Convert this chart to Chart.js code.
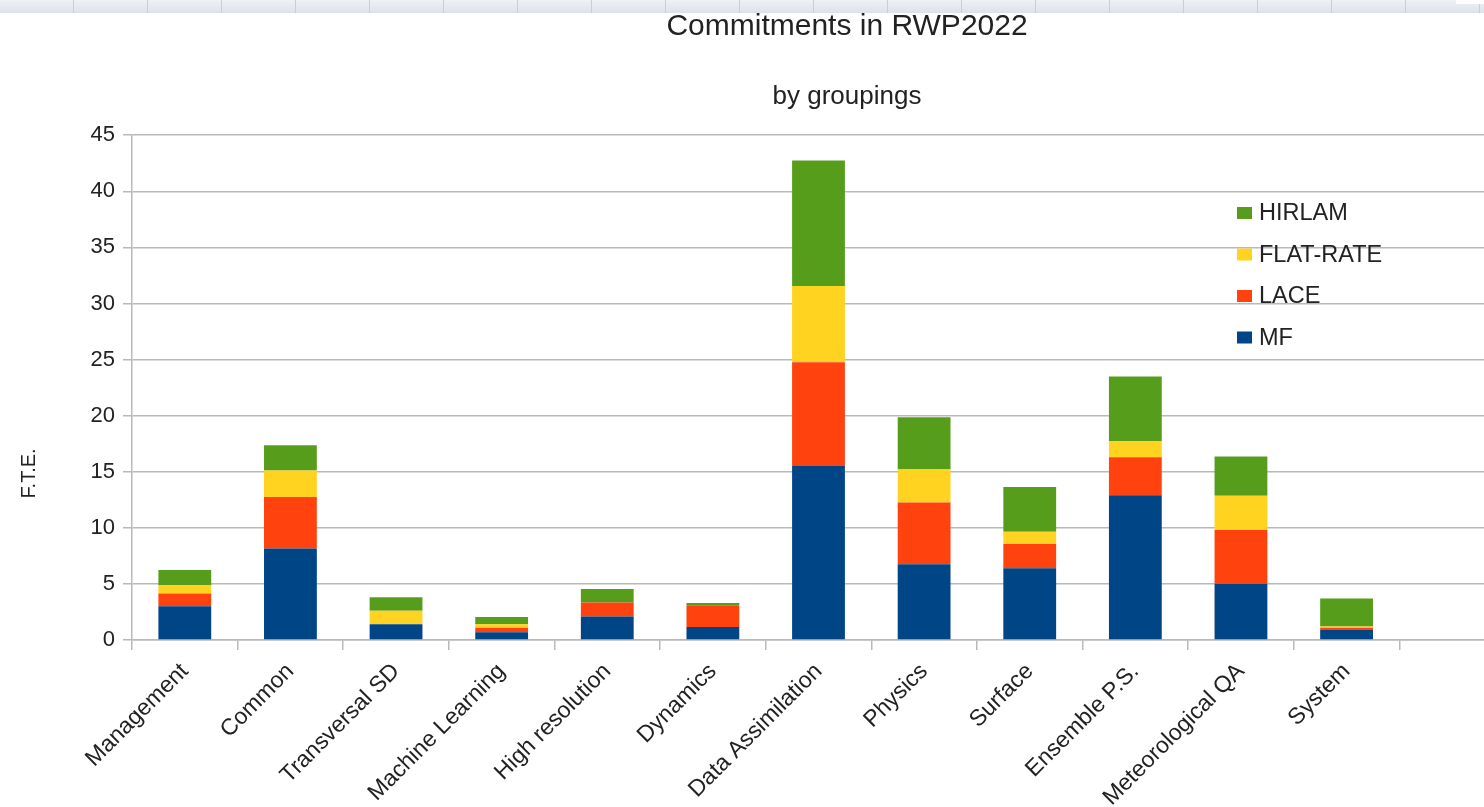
<!DOCTYPE html>
<html>
<head>
<meta charset="utf-8">
<title>Commitments in RWP2022</title>
<script src="https://cdn.jsdelivr.net/npm/chart.js@4"></script>
<style>
  html, body { margin: 0; padding: 0; background: #fff; overflow: hidden; }
  .strip {
    position: absolute; top: 0; left: 0; width: 100%; height: 13px; z-index: 2;
    background:
      repeating-linear-gradient(90deg, transparent 0 73px, #c9ced6 73px 74px),
      linear-gradient(#eef1f5, #dde2e9);
  }
  .strip::after {
    content: ''; position: absolute; top: 0; right: 0; width: 28px; height: 4px; background: #fff;
  }
  .wrap { position: absolute; top: 0; left: 0; width: 1694px; height: 807px; }
</style>
</head>
<body>
<div class="strip"></div>
<div class="wrap"><canvas id="chart"></canvas></div>
<script>
const categories = [
  'Management', 'Common', 'Transversal SD', 'Machine Learning', 'High resolution',
  'Dynamics', 'Data Assimilation', 'Physics', 'Surface', 'Ensemble P.S.',
  'Meteorological QA', 'System', ''
];

// F.T.E. per grouping, one array per contributor (stacked bottom to top)
const mf       = [3.0, 8.15, 1.4, 0.7, 2.1, 1.15, 15.5, 6.75, 6.4, 12.9, 5.0, 0.9, null];
const lace     = [1.15, 4.6, 0, 0.4, 1.25, 1.95, 9.25, 5.5, 2.15, 3.4, 4.8, 0.2, null];
const flatRate = [0.75, 2.35, 1.2, 0.3, 0, 0, 6.8, 3.0, 1.1, 1.45, 3.05, 0.1, null];
const hirlam   = [1.35, 2.25, 1.2, 0.65, 1.2, 0.2, 11.2, 4.6, 4.0, 5.75, 3.5, 2.5, null];

const yTicks = [0, 5, 10, 15, 20, 25, 30, 35, 40, 45];

const FONT = '"Liberation Sans", Arial, sans-serif';
const TEXT = '#222';
const GRID = '#b9b9b9';

// legend sits inside the plot, top-right, listed top series first
const insideLegend = {
  id: 'insideLegend',
  afterDraw(chart, args, opts) {
    const { ctx } = chart;
    const sets = chart.data.datasets.slice().reverse();
    ctx.save();
    ctx.font = `${opts.fontSize}px ${FONT}`;
    ctx.textBaseline = 'middle';
    ctx.textAlign = 'left';
    sets.forEach((ds, i) => {
      const y = opts.y + i * opts.rowGap;
      ctx.fillStyle = ds.backgroundColor;
      ctx.fillRect(opts.x, y - 6, 15, 12);
      ctx.fillStyle = TEXT;
      ctx.fillText(ds.label, opts.x + 22, y + 1);
    });
    ctx.restore();
  }
};

// rotated axis caption on the left
const axisCaption = {
  id: 'axisCaption',
  afterDraw(chart, args, opts) {
    const { ctx, chartArea } = chart;
    ctx.save();
    ctx.font = `${opts.fontSize}px ${FONT}`;
    ctx.fillStyle = TEXT;
    ctx.textAlign = 'center';
    ctx.textBaseline = 'middle';
    ctx.translate(opts.x, chartArea.top + (chartArea.bottom - chartArea.top) * opts.pos);
    ctx.rotate(-Math.PI / 2);
    ctx.fillText(opts.text, 0, 0);
    ctx.restore();
  }
};

const series = [
  ['MF', mf, '#004586'],
  ['LACE', lace, '#ff420e'],
  ['FLAT-RATE', flatRate, '#ffd320'],
  ['HIRLAM', hirlam, '#579d1c']
];

new Chart(document.getElementById('chart'), {
  type: 'bar',
  data: {
    labels: categories,
    datasets: series.map(([label, data, color]) => ({
      label,
      data,
      backgroundColor: color,
      borderWidth: 0,
      categoryPercentage: 1,
      barPercentage: 0.5
    }))
  },
  options: {
    responsive: true,
    maintainAspectRatio: false,
    animation: false,
    layout: { padding: 0 },
    plugins: {
      legend: { display: false },
      tooltip: { enabled: false },
      title: {
        display: true,
        text: 'Commitments in RWP2022',
        color: TEXT,
        font: { family: FONT, size: 30, weight: 'normal', lineHeight: 1.2 },
        padding: { top: 9, bottom: 0 }
      },
      subtitle: {
        display: true,
        text: 'by groupings',
        color: TEXT,
        font: { family: FONT, size: 26, weight: 'normal', lineHeight: 1.2 },
        padding: { top: 36, bottom: 23 }
      },
      insideLegend: { x: 1237, y: 213, rowGap: 41.5, fontSize: 23.5 },
      axisCaption: { text: 'F.T.E.', x: 29, pos: 0.67, fontSize: 20 }
    },
    scales: {
      x: {
        stacked: true,
        afterFit: (s) => { s.height = 167; },
        grid: { drawOnChartArea: false, offset: true, color: GRID, lineWidth: 1.5, tickLength: 10 },
        border: { color: GRID, width: 1.5 },
        ticks: {
          autoSkip: false,
          minRotation: 45,
          maxRotation: 45,
          color: TEXT,
          padding: 8,
          font: { family: FONT, size: 23 }
        }
      },
      y: {
        stacked: true,
        min: yTicks[0],
        max: yTicks[yTicks.length - 1],
        afterFit: (s) => { s.width = 132; },
        afterBuildTicks: (s) => { s.ticks = yTicks.map((v) => ({ value: v })); },
        grid: { color: GRID, lineWidth: 1.5, tickLength: 9 },
        border: { color: GRID, width: 1.5 },
        ticks: {
          color: TEXT,
          padding: 8,
          font: { family: FONT, size: 22 }
        }
      },
      // empty right-hand margin so the plot stops short of the titles' full width
      margin: {
        position: 'right',
        grid: { display: false },
        border: { display: false },
        ticks: { display: false },
        afterFit: (s) => { s.width = 189; }
      }
    }
  },
  plugins: [insideLegend, axisCaption]
});
</script>
</body>
</html>
